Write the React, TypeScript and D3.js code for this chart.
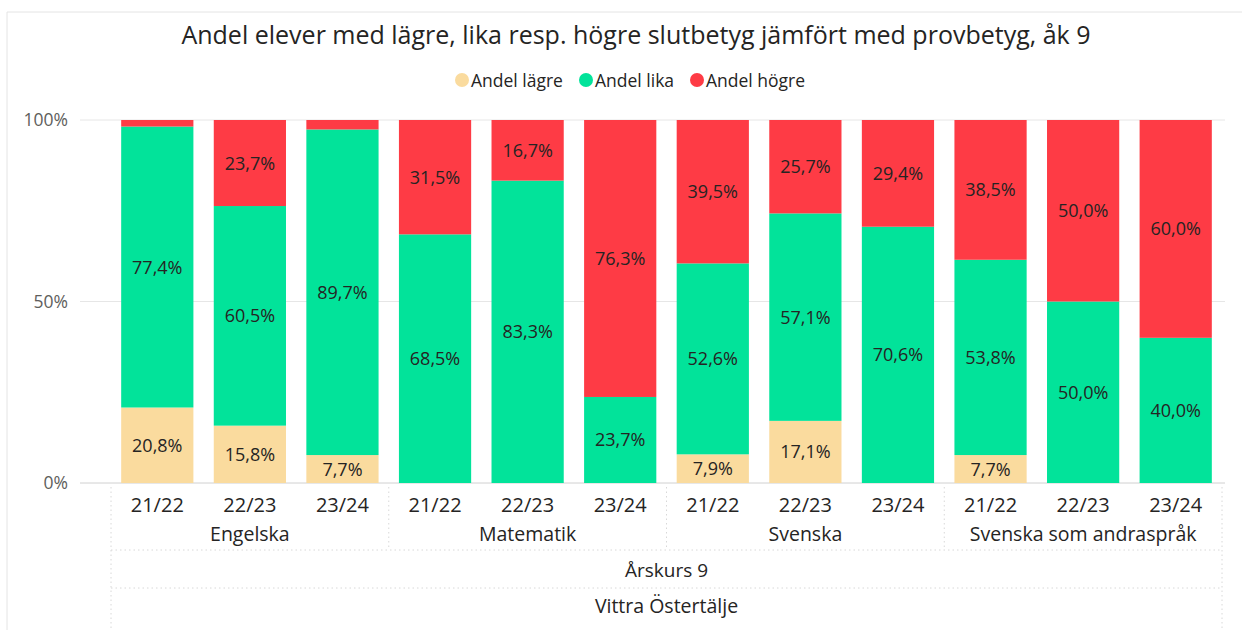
import React from "react";
import * as d3 from "d3";

const subjects = ["Engelska", "Matematik", "Svenska", "Svenska som andraspråk"];
const years = ["21/22", "22/23", "23/24"];
const lagre = [20.8, 15.8, 7.7, 0, 0, 0, 7.9, 17.1, 0, 7.7, 0, 0];
const lika = [77.4, 60.5, 89.7, 68.5, 83.3, 23.7, 52.6, 57.1, 70.6, 53.8, 50.0, 40.0];
const hogre = [1.8, 23.7, 2.6, 31.5, 16.7, 76.3, 39.5, 25.7, 29.4, 38.5, 50.0, 60.0];
const seriesNames = ["Andel lägre", "Andel lika", "Andel högre"];
const yTicks = [0, 0.5, 1];
const level2 = "Årskurs 9";
const level3 = "Vittra Östertälje";
const title = "Andel elever med lägre, lika resp. högre slutbetyg jämfört med provbetyg, åk 9";

const colors = ["#FADB9E", "#02E39A", "#FE3B45"];
const FONT = "'Open Sans', 'Segoe UI', sans-serif";

export default function App() {
  const W = 1242, H = 630;
  const n = lagre.length;
  const x = d3.scaleBand<number>().domain(d3.range(n)).range([111, 1222]).paddingInner(0.22).paddingOuter(0.11);
  const y = d3.scaleLinear().domain([0, 1]).range([483, 120]);
  const step = x.step();
  const left = 111, right = 1222;

  const data = d3.range(n).map((i) => ({ i, lagre: lagre[i], lika: lika[i], hogre: hogre[i] }));
  const stack = d3.stack<any>().keys(["lagre", "lika", "hogre"]).offset(d3.stackOffsetExpand)(data);
  const vals = [lagre, lika, hogre];

  const legendPos = [462, 586, 697];

  return (
    <svg width={W} height={H} style={{ position: "absolute", left: 0, top: 0, background: "#fff" }} fontFamily={FONT}>
      <line x1={7} x2={W} y1={12} y2={12} stroke="#e4e4e4" />
      <line x1={7} x2={7} y1={12} y2={H} stroke="#e4e4e4" />
      <text x={636} y={44} textAnchor="middle" fontSize={25} fill="#252423">{title}</text>
      {seriesNames.map((s, k) => (
        <g key={s}>
          <circle cx={legendPos[k]} cy={80} r={7} fill={colors[k]} />
          <text x={legendPos[k] + 9} y={86.5} fontSize={17.5} fill="#252423">{s}</text>
        </g>
      ))}
      {yTicks.map((t) => (
        <g key={t}>
          <line x1={80} x2={right + 3} y1={y(t)} y2={y(t)} stroke={t === 0 ? "#d0d0d0" : "#e6e6e6"} />
          <text x={68} y={y(t) + 6} textAnchor="end" fontSize={17.5} fill="#605E5C">{Math.round(t * 100)}%</text>
        </g>
      ))}
      {stack.map((layer, k) => (
        <g key={k} fill={colors[k]}>
          {layer.map((d, i) => (
            <rect key={i} x={x(i)} width={x.bandwidth()} y={y(d[1])} height={Math.max(0, y(d[0]) - y(d[1]))} />
          ))}
        </g>
      ))}
      {stack.map((layer, k) =>
        layer.map((d, i) => {
          const v = vals[k][i];
          if (v < 5) return null;
          return (
            <text key={`${k}-${i}`} x={(x(i) as number) + x.bandwidth() / 2} y={(y(d[0]) + y(d[1])) / 2 + 6.5}
              textAnchor="middle" fontSize={18} fill="#252423">
              {v.toFixed(1).replace(".", ",")}%
            </text>
          );
        })
      )}
      {d3.range(n).map((i) => (
        <text key={i} x={(x(i) as number) + x.bandwidth() / 2} y={512} textAnchor="middle" fontSize={20} fill="#252423">
          {years[i % 3]}
        </text>
      ))}
      {subjects.map((s, g) => (
        <text key={s} x={left + step * (g * 3 + 1.5)} y={541} textAnchor="middle" fontSize={19.5} fill="#252423">{s}</text>
      ))}
      {d3.range(subjects.length + 1).map((g) => {
        const xx = left + step * g * 3;
        const full = g === 0 || g === subjects.length;
        return <line key={g} x1={xx} x2={xx} y1={487} y2={full ? 628 : 550} stroke="#d8d8d8" strokeDasharray="1.5 3" />;
      })}
      <line x1={left} x2={right} y1={550} y2={550} stroke="#d8d8d8" strokeDasharray="1.5 3" />
      <line x1={left} x2={right} y1={588} y2={588} stroke="#d8d8d8" strokeDasharray="1.5 3" />
      <text x={(left + right) / 2} y={577} textAnchor="middle" fontSize={19} fill="#252423">{level2}</text>
      <text x={(left + right) / 2} y={613} textAnchor="middle" fontSize={19.5} fill="#252423">{level3}</text>
    </svg>
  );
}
